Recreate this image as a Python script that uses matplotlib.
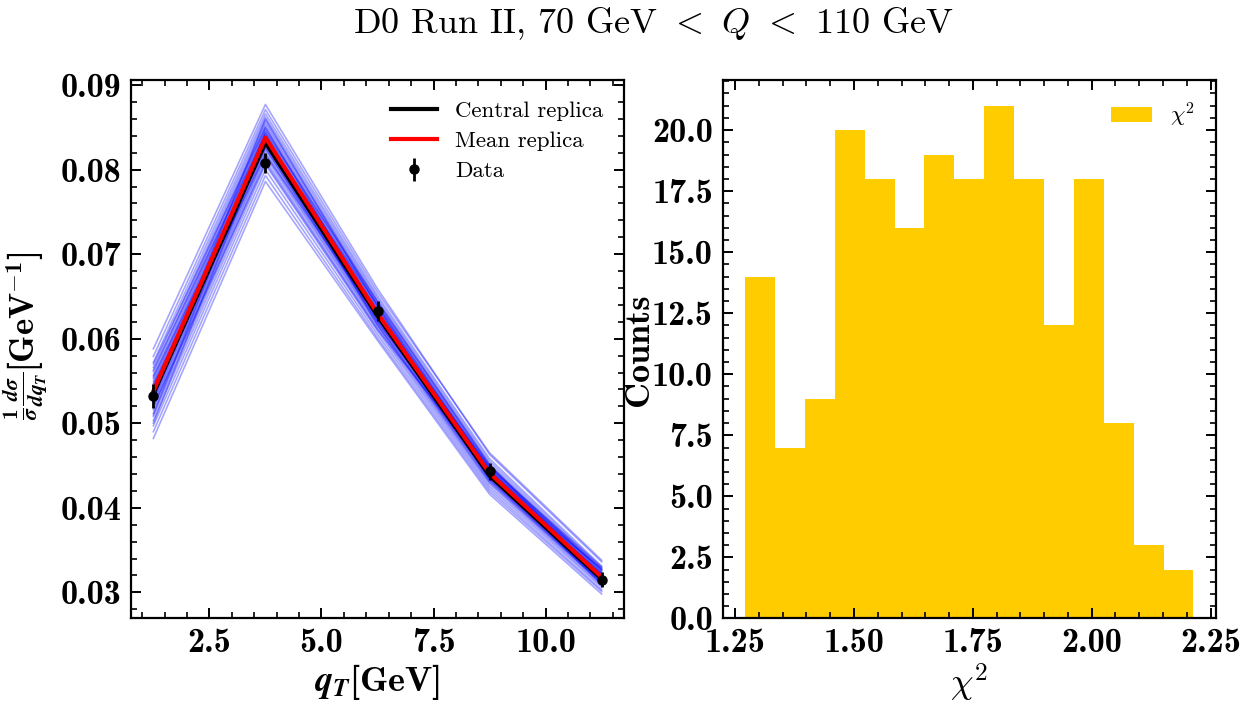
import numpy as np
import matplotlib
matplotlib.use("Agg")
import matplotlib.pyplot as plt
from matplotlib.ticker import AutoMinorLocator, MultipleLocator

# --- data ---
qT = [1.25, 3.75, 6.25, 8.75, 11.25]
data_y = [0.0532, 0.0808, 0.0633, 0.0443, 0.0315]
data_err = [0.0014, 0.0012, 0.0012, 0.0010, 0.0009]

central_replica = [0.0535, 0.0832, 0.0627, 0.0438, 0.0316]
mean_replica = [0.0538, 0.0838, 0.0630, 0.0441, 0.0318]

replicas = [
    [0.0588, 0.0877, 0.0659, 0.0463, 0.0336],
    [0.0579, 0.0871, 0.0655, 0.0465, 0.0338],
    [0.0572, 0.0866, 0.0651, 0.0458, 0.0331],
    [0.0566, 0.0862, 0.0648, 0.0455, 0.0329],
    [0.0561, 0.0858, 0.0645, 0.0452, 0.0327],
    [0.0557, 0.0855, 0.0643, 0.0450, 0.0326],
    [0.0553, 0.0852, 0.0641, 0.0449, 0.0325],
    [0.0550, 0.0849, 0.0639, 0.0447, 0.0323],
    [0.0547, 0.0847, 0.0637, 0.0446, 0.0322],
    [0.0545, 0.0844, 0.0635, 0.0445, 0.0321],
    [0.0542, 0.0842, 0.0634, 0.0444, 0.0320],
    [0.0540, 0.0840, 0.0632, 0.0443, 0.0319],
    [0.0538, 0.0839, 0.0631, 0.0442, 0.0319],
    [0.0536, 0.0837, 0.0630, 0.0441, 0.0318],
    [0.0534, 0.0835, 0.0629, 0.0440, 0.0317],
    [0.0532, 0.0833, 0.0627, 0.0439, 0.0316],
    [0.0530, 0.0831, 0.0626, 0.0438, 0.0316],
    [0.0527, 0.0829, 0.0624, 0.0437, 0.0315],
    [0.0525, 0.0826, 0.0622, 0.0436, 0.0314],
    [0.0522, 0.0824, 0.0621, 0.0434, 0.0313],
    [0.0519, 0.0821, 0.0619, 0.0433, 0.0312],
    [0.0516, 0.0818, 0.0617, 0.0431, 0.0311],
    [0.0512, 0.0815, 0.0615, 0.0430, 0.0310],
    [0.0508, 0.0811, 0.0612, 0.0428, 0.0308],
    [0.0503, 0.0806, 0.0609, 0.0425, 0.0306],
    [0.0497, 0.0800, 0.0605, 0.0422, 0.0303],
    [0.0490, 0.0793, 0.0601, 0.0419, 0.0301],
    [0.0482, 0.0786, 0.0598, 0.0416, 0.0298],
    [0.0570, 0.0850, 0.0628, 0.0438, 0.0322],
    [0.0510, 0.0845, 0.0644, 0.0451, 0.0315],
    [0.0555, 0.0826, 0.0620, 0.0447, 0.0330],
    [0.0528, 0.0860, 0.0638, 0.0433, 0.0312],
    [0.0545, 0.0818, 0.0626, 0.0449, 0.0324],
    [0.0500, 0.0836, 0.0640, 0.0442, 0.0309],
    [0.0563, 0.0842, 0.0616, 0.0436, 0.0328],
    [0.0520, 0.0808, 0.0611, 0.0444, 0.0327],
]

# chi2 histogram
chi2_min, chi2_max, n_bins = 1.271, 2.214, 15
chi2_counts = [14, 7, 9, 20, 18, 16, 19, 18, 21, 18, 12, 18, 8, 3, 2]

title = r"D0 Run II, 70 GeV $<$ $Q$ $<$ 110 GeV"

# --- style ---
plt.rcParams.update({
    "font.family": "serif",
    "font.serif": ["cmb10"],
    "mathtext.fontset": "custom",
    "mathtext.rm": "cmb10",
    "mathtext.bf": "cmb10",
    "mathtext.it": "STIXGeneral:italic:bold",
    "axes.linewidth": 1.6,
    "axes.unicode_minus": False,
    "xtick.direction": "in",
    "ytick.direction": "in",
    "xtick.top": True,
    "ytick.right": True,
    "xtick.major.size": 7,
    "ytick.major.size": 7,
    "xtick.minor.size": 4,
    "ytick.minor.size": 4,
    "xtick.major.width": 1.4,
    "ytick.major.width": 1.4,
    "xtick.minor.width": 1.2,
    "ytick.minor.width": 1.2,
    "xtick.major.pad": 7,
    "ytick.major.pad": 7,
    "xtick.labelsize": 24.5,
    "ytick.labelsize": 24.5,
})

fig, (ax1, ax2) = plt.subplots(1, 2, figsize=(12.47, 7.05), dpi=100)
fig.subplots_adjust(left=0.105, right=0.975, bottom=0.1227, top=0.8865, wspace=0.2)

# left panel: replicas
for rep in replicas:
    ax1.plot(qT, rep, color="blue", lw=1.2, alpha=0.35)
ax1.plot(qT, central_replica, color="black", lw=3, label="Central replica")
ax1.plot(qT, mean_replica, color="red", lw=3, label="Mean replica")
ax1.errorbar(qT, data_y, yerr=data_err, fmt="o", color="black", ms=6.5,
             elinewidth=2, capsize=0, label="Data", zorder=5)

ax1.set_xlabel(r"$q_T[\mathrm{GeV}]$", fontsize=26, labelpad=2)
# y label in two pieces so the fraction stays compact
ax1.text(-0.212, 0.458, r"$\frac{1}{\sigma}\frac{d\sigma}{dq_T}$", fontsize=22,
         rotation=90, ha="center", va="top", transform=ax1.transAxes)
ax1.text(-0.215, 0.458, r"[GeV$^{-1}$]", fontsize=25,
         rotation=90, ha="center", va="bottom", transform=ax1.transAxes)
ax1.xaxis.set_major_locator(MultipleLocator(2.5))
leg1 = ax1.legend(loc="upper right", frameon=False, fontsize=16.5,
                  handlelength=2.0, labelspacing=0.45)
for t in leg1.get_texts():
    t.set_fontfamily("cmr10")

# right panel: chi2 histogram
edges = np.linspace(chi2_min, chi2_max, n_bins + 1)
ax2.hist(edges[:-1], bins=edges, weights=chi2_counts, color="#FFCC00", label=r"$\chi^2$")
ax2.set_ylabel("Counts", fontsize=26)
ax2.yaxis.set_label_coords(-0.138, 0.5)
ax2.set_xlabel(r"$\chi^2$", fontsize=26, math_fontfamily="cm", labelpad=2)
ax2.xaxis.set_major_locator(MultipleLocator(0.25))
ax2.yaxis.set_major_locator(MultipleLocator(2.5))
leg2 = ax2.legend(loc="upper right", frameon=False, fontsize=16.5,
                  handlelength=1.8, handleheight=0.6)
for t in leg2.get_texts():
    t.set_math_fontfamily("cm")

for ax in (ax1, ax2):
    ax.xaxis.set_minor_locator(AutoMinorLocator(5))
    ax.yaxis.set_minor_locator(AutoMinorLocator(5))
    ax.tick_params(which="both", top=True, right=True)

fig.suptitle(title, x=0.524, y=0.966, va="center", fontsize=26,
             fontfamily="cmr10", math_fontfamily="cm")

plt.savefig("out.png", dpi=100)
print("Saved out.png")
